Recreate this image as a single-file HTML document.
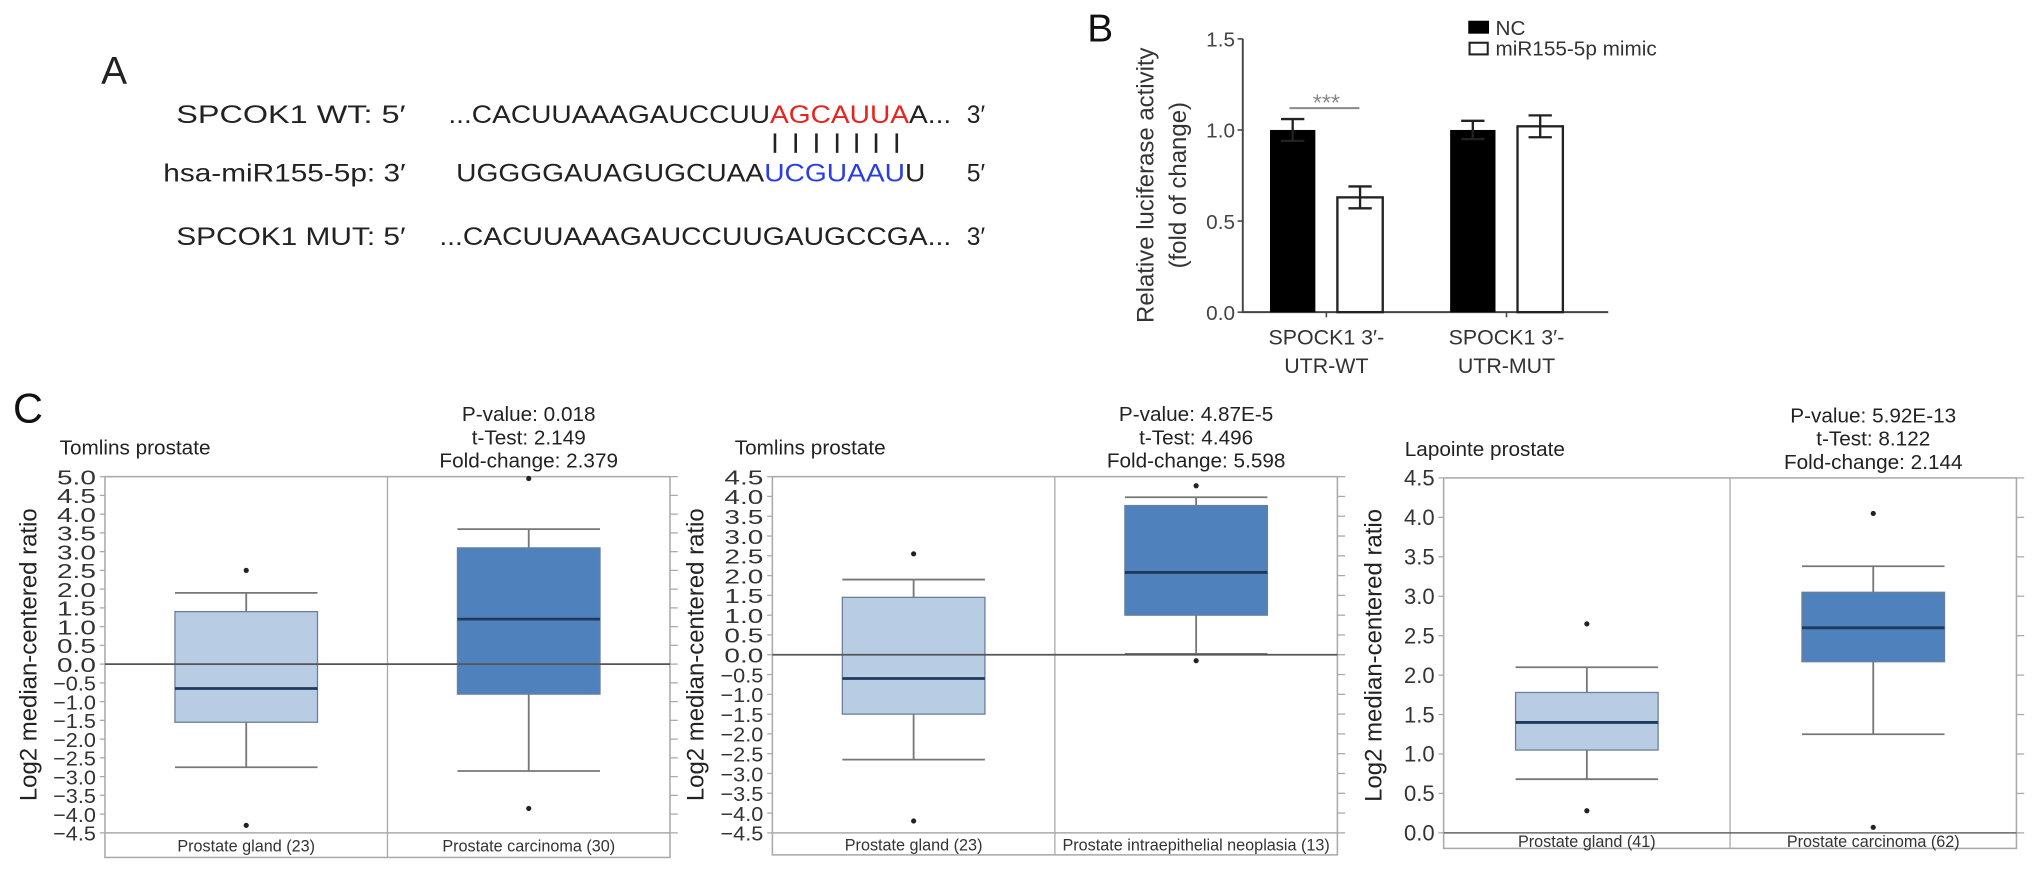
<!DOCTYPE html>
<html><head><meta charset="utf-8"><style>
html,body{margin:0;padding:0;background:#fff;}
svg{display:block;font-family:"Liberation Sans",sans-serif;}
</style></head><body>
<svg id="fig" width="2032" height="873" viewBox="0 0 1568 674" preserveAspectRatio="none" xmlns="http://www.w3.org/2000/svg">
<g font-size="19" fill="#222">
  <text x="78" y="65" font-size="30">A</text>
  <text x="136" y="95" textLength="177" lengthAdjust="spacingAndGlyphs">SPCOK1   WT:  5′</text>
  <text x="346" y="95" textLength="388" lengthAdjust="spacingAndGlyphs">...CACUUAAAGAUCCUU<tspan fill="#e8231e">AGCAUUA</tspan>A...</text>
  <text x="746" y="95">3′</text>
  <g stroke="#222" stroke-width="2">
    <line x1="598" y1="103" x2="598" y2="118"/><line x1="614" y1="103" x2="614" y2="118"/><line x1="630" y1="103" x2="630" y2="118"/><line x1="646" y1="103" x2="646" y2="118"/><line x1="661" y1="103" x2="661" y2="118"/><line x1="676" y1="103" x2="676" y2="118"/><line x1="692" y1="103" x2="692" y2="118"/>
  </g>
  <text x="126" y="140" textLength="187" lengthAdjust="spacingAndGlyphs">hsa-miR155-5p:  3′</text>
  <text x="352" y="140" textLength="362" lengthAdjust="spacingAndGlyphs">UGGGGAUAGUGCUAA<tspan fill="#2a3ee8">UCGUAAU</tspan>U</text>
  <text x="746" y="140">5′</text>
  <text x="136" y="189" textLength="177" lengthAdjust="spacingAndGlyphs">SPCOK1 MUT:  5′</text>
  <text x="339" y="189" textLength="395" lengthAdjust="spacingAndGlyphs">...CACUUAAAGAUCCUUGAUGCCGA...</text>
  <text x="746" y="189">3′</text>
</g>
<g id="panelB"></g>
<text x="10" y="326" font-size="32" fill="#111">C</text>
<g id="c1"></g>
<g id="c2"></g>
<g id="c3"></g>
</svg>
<script>
// ---- Panel B data ----
const bCategories = [["SPOCK1 3′-","UTR-WT"],["SPOCK1 3′-","UTR-MUT"]];
const bNC = [1.0, 1.0];
const bMimic = [0.63, 1.02];
const bNCErr = [0.06, 0.05];
const bMimicErr = [0.06, 0.06];
const bTicks = [0.0, 0.5, 1.0, 1.5];
const bTickLabels = ["0.0","0.5","1.0","1.5"];

// ---- Panel C data ----
const c1Groups = ["Prostate gland (23)","Prostate carcinoma (30)"];
const c1Lo = [-2.75, -2.85];
const c1Q1 = [-1.55, -0.8];
const c1Med = [-0.65, 1.2];
const c1Q3 = [1.4, 3.1];
const c1Hi = [1.9, 3.6];
const c1OutHi = [2.5, 4.95];
const c1OutLo = [-4.3, -3.85];
const c1Stats = ["P-value: 0.018","t-Test: 2.149","Fold-change: 2.379"];

const c2Groups = ["Prostate gland (23)","Prostate intraepithelial neoplasia (13)"];
const c2Lo = [-2.65, 0.02];
const c2Q1 = [-1.5, 1.0];
const c2Med = [-0.6, 2.08];
const c2Q3 = [1.45, 3.77];
const c2Hi = [1.9, 3.98];
const c2OutHi = [2.55, 4.27];
const c2OutLo = [-4.2, -0.15];
const c2Stats = ["P-value: 4.87E-5","t-Test: 4.496","Fold-change: 5.598"];

const c3Groups = ["Prostate gland (41)","Prostate carcinoma (62)"];
const c3Lo = [0.68, 1.25];
const c3Q1 = [1.05, 2.17];
const c3Med = [1.4, 2.6];
const c3Q3 = [1.78, 3.05];
const c3Hi = [2.1, 3.38];
const c3OutHi = [2.65, 4.05];
const c3OutLo = [0.28, 0.07];
const c3Stats = ["P-value: 5.92E-13","t-Test: 8.122","Fold-change: 2.144"];

const NS = "http://www.w3.org/2000/svg";
function mk(parent, tag, attrs, text){
  const e = document.createElementNS(NS, tag);
  for (const k in attrs) e.setAttribute(k, attrs[k]);
  if (text !== undefined) e.textContent = text;
  parent.appendChild(e);
  return e;
}

// ---- Panel B ----
(function(){
  const g = document.getElementById('panelB');
  const x0 = 959, x1 = 1241, yTop = 30, yBot = 241, vmax = 1.5;
  const y = v => yBot - (v / vmax) * (yBot - yTop);
  let t = mk(g,'text',{x:839,y:32,'font-size':30,fill:'#111'},'B');
  
  
  const yl = mk(g,'g',{transform:'translate(890,143) rotate(-90)','font-size':18.5,fill:'#333','text-anchor':'middle'});
  
  
  mk(yl,'text',{x:0,y:0},'Relative luciferase activity');
  mk(yl,'text',{x:0,y:25},'(fold of change)');
  const ax = mk(g,'path',{d:`M${x0},${yTop} V${yBot} H${x1}`,stroke:'#444','stroke-width':1.5,fill:'none'});
  
  
  bTicks.forEach((v,i)=>{
    mk(g,'line',{x1:x0-4,x2:x0,y1:y(v),y2:y(v),stroke:'#444','stroke-width':1.2});
    const tl = mk(g,'text',{x:x0-6,y:y(v)+6,'font-size':16,fill:'#444','text-anchor':'end'},bTickLabels[i]);
    
    
  });
  const groupW = (x1 - x0) / 2;
  const barW = 35, gap = 17;
  bCategories.forEach((c,i)=>{
    const cx = x0 + groupW*i + groupW/2 + (i===0?-6:-8);
    mk(g,'line',{x1:cx,x2:cx,y1:yBot,y2:yBot+4,stroke:'#444','stroke-width':1.2});
    const nx = cx - gap/2 - barW, mx = cx + gap/2;
    const b1 = mk(g,'rect',{x:nx,y:y(bNC[i]),width:barW,height:yBot-y(bNC[i]),fill:'#000'});
    
    
    const b2 = mk(g,'rect',{x:mx,y:y(bMimic[i]),width:barW,height:yBot-y(bMimic[i]),fill:'#fff',stroke:'#222','stroke-width':1.8});
    
    
    [[nx+barW/2,bNC[i],bNCErr[i]],[mx+barW/2,bMimic[i],bMimicErr[i]]].forEach(([ex,v,e])=>{
      const eb = mk(g,'path',{d:`M${ex-9},${y(v+e)} H${ex+9} M${ex},${y(v+e)} V${y(v-e)} M${ex-9},${y(v-e)} H${ex+9}`,stroke:'#222','stroke-width':1.8,fill:'none'});
      
      
    });
    const lab = mk(g,'text',{x:cx,y:yBot+25,'font-size':16.5,fill:'#333','text-anchor':'middle'});
    
    
    mk(lab,'tspan',{x:cx,dy:0},c[0]);
    mk(lab,'tspan',{x:cx,dy:22},c[1]);
    if (i===0){
      const sig = mk(g,'line',{x1:nx+15,x2:mx+barW-18,y1:y(1.12),y2:y(1.12),stroke:'#888','stroke-width':1.5});
      
      
      const st = mk(g,'text',{x:cx,y:y(1.12)+2,'font-size':18,fill:'#888','text-anchor':'middle'},'***');
      
      
    }
  });
  const lg = mk(g,'g',{});
  
  
  mk(lg,'rect',{x:1133,y:16,width:16,height:10,fill:'#000'});
  mk(lg,'text',{x:1154,y:27,'font-size':16,fill:'#333'},'NC');
  mk(lg,'rect',{x:1134,y:33,width:14,height:9,fill:'#fff',stroke:'#222','stroke-width':1.6});
  mk(lg,'text',{x:1154,y:43,'font-size':16,fill:'#333'},'miR155-5p mimic');
})();

// ---- Panel C box charts ----
function boxChart(id, cfg){
  const g = document.getElementById(id);
  const {left,right,top,vTop,vBot,yBotPx,bottom,title,titleX,stats,groups,lo,q1,med,q3,hi,outHi,outLo,ticks,zeroLine,ylabelX} = cfg;
  const y = v => top + (vTop - v) / (vTop - vBot) * (yBotPx - top);
  const mid = (left + right) / 2;
  const grid = '#aaa';
  const frame = mk(g,'rect',{x:left,y:top,width:right-left,height:bottom-top,fill:'none',stroke:grid,'stroke-width':1.2});
  
  
  mk(g,'line',{x1:mid,x2:mid,y1:top,y2:bottom,stroke:grid,'stroke-width':1});
  mk(g,'line',{x1:left,x2:right,y1:yBotPx,y2:yBotPx,stroke:zeroLine?grid:'#666','stroke-width':1.2});
  ticks.forEach(v=>{
    mk(g,'line',{x1:left-4,x2:left,y1:y(v),y2:y(v),stroke:grid,'stroke-width':1});
    mk(g,'line',{x1:right,x2:right+6,y1:y(v),y2:y(v),stroke:grid,'stroke-width':1});
    const lbl = (v<0?'−':'') + Math.abs(v).toFixed(1);
    const attrs = {x:left-7,y:y(v)+6,'font-size':cfg.tickFont,fill:'#333','text-anchor':'end'};
    if (cfg.tickStretch){ attrs.textLength = v<0?33:30; attrs.lengthAdjust='spacingAndGlyphs'; }
    const tl = mk(g,'text',attrs,lbl);
    
    
  });
  const yl = mk(g,'text',{transform:`translate(${ylabelX},${(top+yBotPx)/2}) rotate(-90)`,'font-size':18.5,fill:'#222','text-anchor':'middle'},'Log2 median-centered ratio');
  
  
  const tt = mk(g,'text',{x:titleX,y:top-17,'font-size':16,fill:'#222'},title);
  
  
  stats.forEach((s,i)=>{
    const st = mk(g,'text',{x:(mid+right)/2,y:top-43+i*18,'font-size':16,fill:'#222','text-anchor':'middle'},s);
    
    
  });
  groups.forEach((name,i)=>{
    const cx = i===0 ? (left+mid)/2 : (mid+right)/2;
    const bw = 110;
    const wk = mk(g,'path',{d:`M${cx-bw/2},${y(hi[i])} H${cx+bw/2} M${cx},${y(hi[i])} V${y(lo[i])} M${cx-bw/2},${y(lo[i])} H${cx+bw/2}`,stroke:'#777','stroke-width':1.4,fill:'none'});
    
    
    const bx = mk(g,'rect',{x:cx-bw/2,y:y(q3[i]),width:bw,height:y(q1[i])-y(q3[i]),fill:i===0?'#b8cce4':'#4f81bd',stroke:'#6a7f99','stroke-width':1});
    
    
    const md = mk(g,'line',{x1:cx-bw/2,x2:cx+bw/2,y1:y(med[i]),y2:y(med[i]),stroke:'#1f3a5f','stroke-width':2.2});
    
    
    [outHi[i],outLo[i]].forEach(v=>{
      const o = mk(g,'circle',{cx:cx,cy:y(v),r:2,fill:'#222'});
      
      
    });
    const cl = mk(g,'text',{x:cx,y:(yBotPx+bottom)/2+5,'font-size':12.5,fill:'#333','text-anchor':'middle'},name);
    
    
  });
  if (zeroLine){
    mk(g,'line',{x1:left,x2:right,y1:y(0),y2:y(0),stroke:'#555','stroke-width':1.3});
  }
}
function range(a,b,s){const r=[];for(let v=a;v<=b+1e-9;v+=s)r.push(Math.round(v*10)/10);return r;}
boxChart('c1',{left:81,right:517,top:368,bottom:662,vTop:5.0,vBot:-4.5,yBotPx:643,title:'Tomlins prostate',titleX:46,
  stats:c1Stats,groups:c1Groups,lo:c1Lo,q1:c1Q1,med:c1Med,q3:c1Q3,hi:c1Hi,outHi:c1OutHi,outLo:c1OutLo,
  ticks:range(-4.5,5.0,0.5),zeroLine:true,ylabelX:28,tickFont:16,tickStretch:true});
boxChart('c2',{left:596,right:1032,top:368,bottom:660,vTop:4.5,vBot:-4.5,yBotPx:643,title:'Tomlins prostate',titleX:567,
  stats:c2Stats,groups:c2Groups,lo:c2Lo,q1:c2Q1,med:c2Med,q3:c2Q3,hi:c2Hi,outHi:c2OutHi,outLo:c2OutLo,
  ticks:range(-4.5,4.5,0.5),zeroLine:true,ylabelX:543,tickFont:16,tickStretch:true});
boxChart('c3',{left:1114,right:1556,top:369,bottom:655,vTop:4.5,vBot:0.0,yBotPx:643,title:'Lapointe prostate',titleX:1084,
  stats:c3Stats,groups:c3Groups,lo:c3Lo,q1:c3Q1,med:c3Med,q3:c3Q3,hi:c3Hi,outHi:c3OutHi,outLo:c3OutLo,
  ticks:range(0,4.5,0.5),zeroLine:false,ylabelX:1066,tickFont:17,tickStretch:false});
</script>
</body></html>
